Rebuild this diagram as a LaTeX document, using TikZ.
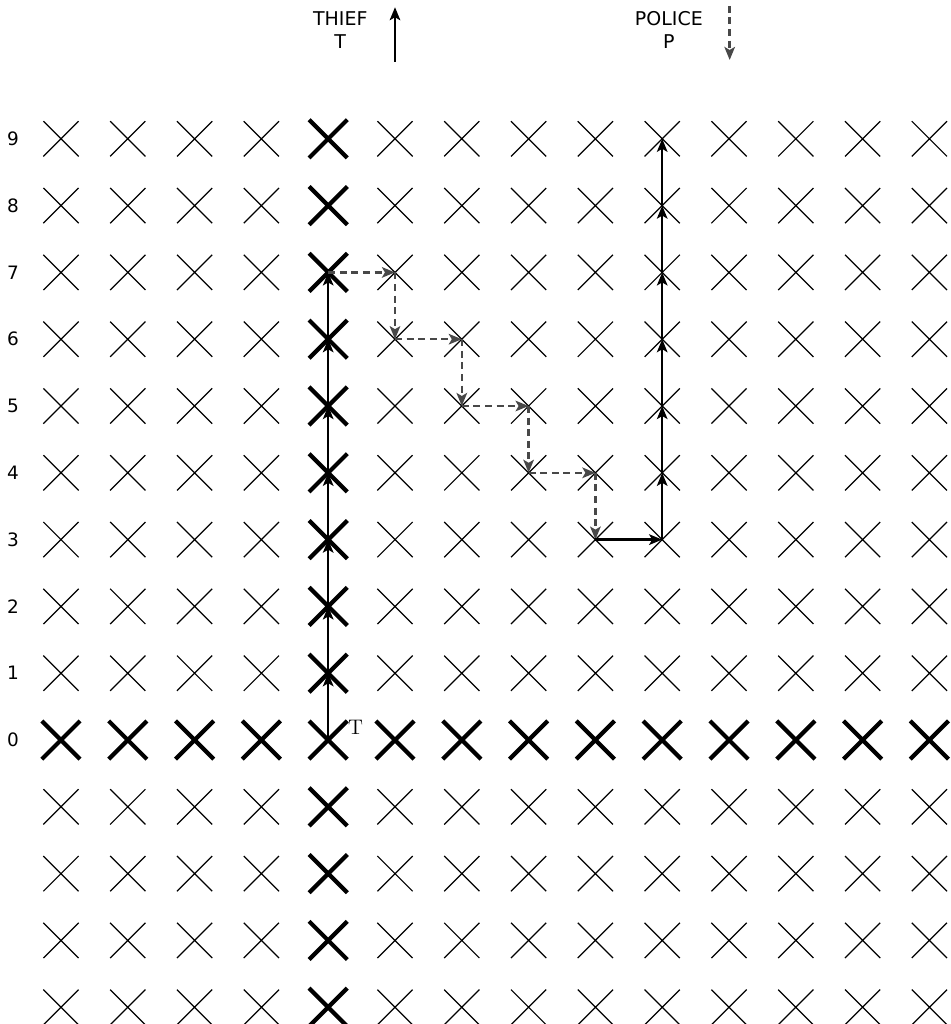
\documentclass[tikz,border=0pt]{standalone}
\usepackage{fontspec}
\setsansfont{DejaVu Sans}
\usepackage{tikz}
\usetikzlibrary{arrows.meta,shapes.misc}
\definecolor{copgray}{RGB}{72,72,72}
\tikzset{
  light/.style={cross out,draw=black,line width=0.7pt,minimum size=0.68cm,inner sep=0pt},
  heavy/.style={light,line width=2.4pt},
  rowlab/.style={font=\sffamily\fontsize{10.5}{12}\selectfont,inner sep=0pt},
  legend/.style={font=\sffamily\fontsize{10.8}{12.8}\selectfont,align=center,inner sep=0pt},
  thiefarr/.style={-{Stealth[length=2.6mm,width=2.1mm,inset=0.6mm]},draw=black,line width=1.4pt},
  copdash/.style={-{Stealth[length=2.6mm,width=2.1mm,inset=0.6mm]},draw=copgray,line width=1.4pt,dash pattern=on 4pt off 2.6pt}
}
\begin{document}
\begin{tikzpicture}[x=1.336cm,y=1.336cm]
\useasboundingbox (-0.913,-4.251) rectangle (13.323,11.078);

% grid of crossings
\foreach \i in {0,...,13}
  \foreach \r in {-4,...,9} {
    \ifnum\i=4 \def\kind{heavy}\else\ifnum\r=0 \def\kind{heavy}\else\def\kind{light}\fi\fi
    \node[\kind] (g\i-\r) at (\i,\r) {};
  }

% row numbers
\foreach \r in {0,...,9}
  \node[rowlab] (lab\r) at (-0.72,\r) {\r};

% legend
\node[legend] (thief) at (4.18,10.63) {THIEF\\T};
\coordinate (tleg-a) at (5.0,10.15);
\coordinate (tleg-b) at (5.0,10.97);
\draw[thiefarr] (tleg-a) -- (tleg-b);
\node[legend] (police) at (9.10,10.63) {POLICE\\P};
\coordinate (pleg-a) at (10.01,10.99);
\coordinate (pleg-b) at (10.01,10.18);
\draw[copdash] (pleg-a) -- (pleg-b);

% thief start
\node[font=\fontsize{12}{14}\selectfont,inner sep=0pt] (tstart) at (4.41,0.19) {T};

% thief path
\foreach \a/\b in {0/1,1/2,2/3,3/4,4/5,5/6,6/7}
  \draw[thiefarr] (g4-\a.center) -- (g4-\b.center);

% police path
\foreach \a/\b in {4-7/5-7,5-7/5-6,5-6/6-6,6-6/6-5,6-5/7-5,7-5/7-4,7-4/8-4,8-4/8-3}
  \draw[copdash] (g\a.center) -- (g\b.center);
\foreach \a/\b in {8-3/9-3,9-3/9-4,9-4/9-5,9-5/9-6,9-6/9-7,9-7/9-8,9-8/9-9}
  \draw[thiefarr] (g\a.center) -- (g\b.center);

\end{tikzpicture}
\end{document}
